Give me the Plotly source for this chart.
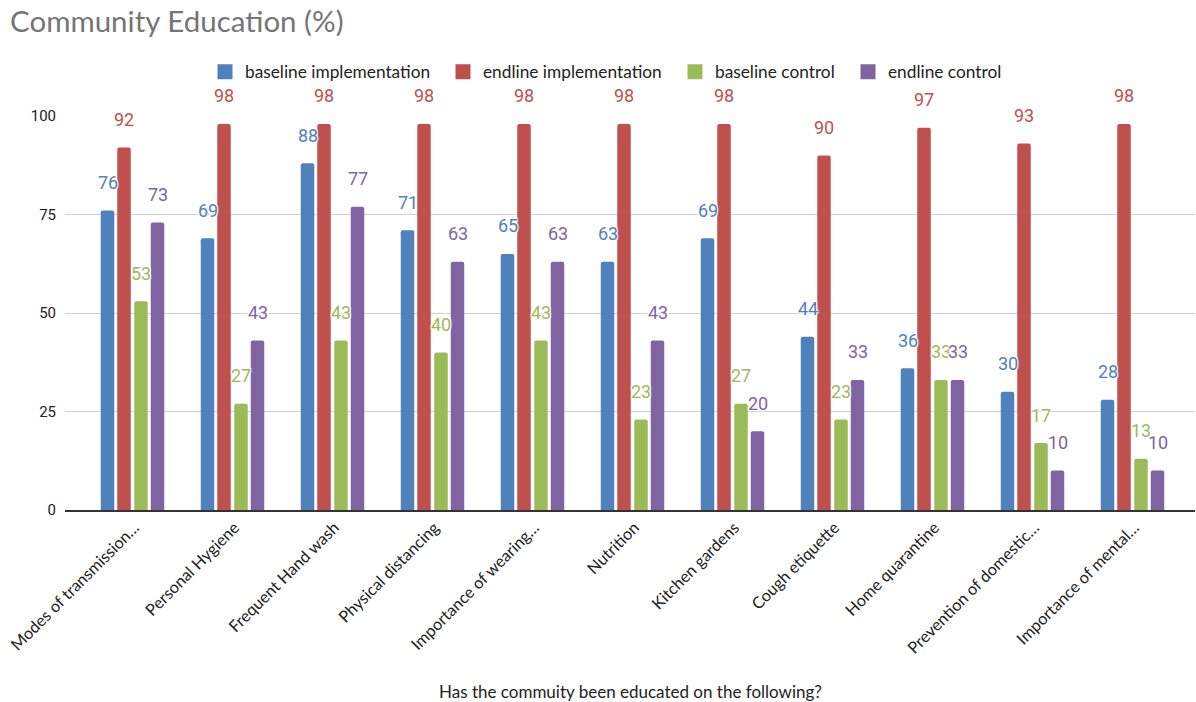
import plotly.graph_objects as go

# Topics the community was asked about
categories = [
    "Modes of transmission…",
    "Personal Hygiene",
    "Frequent Hand wash",
    "Physical distancing",
    "Importance of wearing…",
    "Nutrition",
    "Kitchen gardens",
    "Cough etiquette",
    "Home quarantine",
    "Prevention of domestic…",
    "Importance of mental…",
]

# Share of respondents (%) per survey round and arm
baseline_implementation = [76, 69, 88, 71, 65, 63, 69, 44, 36, 30, 28]
endline_implementation = [92, 98, 98, 98, 98, 98, 98, 90, 97, 93, 98]
baseline_control = [53, 27, 43, 40, 43, 23, 27, 23, 33, 17, 13]
endline_control = [73, 43, 77, 63, 63, 43, 20, 33, 33, 10, 10]

series_names = ["baseline implementation", "endline implementation",
                "baseline control", "endline control"]
series_values = [baseline_implementation, endline_implementation,
                 baseline_control, endline_control]
series_colors = ["#4F81BD", "#C0504D", "#9BBB59", "#8064A2"]

# Layout of the four bars inside each category slot (axis units)
bar_width = 0.135
offsets = [-0.25, -0.085, 0.085, 0.25]

# Left edge (px) of each legend entry across the top of the chart
legend_left_px = [205, 443, 675, 848]
legend_ids = ["legend", "legend2", "legend3", "legend4"]

halo = ("1px 1px 1px white, -1px -1px 1px white, "
        "1px -1px 1px white, -1px 1px 1px white")

fig = go.Figure()
annotations = []
idx = list(range(len(categories)))

for name, vals, color, off in zip(series_names, series_values, series_colors, offsets):
    xs = [i + off for i in idx]
    fig.add_trace(go.Bar(
        x=xs, y=vals, name=name, width=bar_width, showlegend=False,
        marker=dict(color=color, line=dict(width=0), cornerradius=2),
        hovertemplate="%{y}<extra>" + name + "</extra>",
    ))
    for x, v in zip(xs, vals):
        annotations.append(dict(
            x=x, y=v, xref="x", yref="y", text=str(v), showarrow=False,
            yanchor="middle", yshift=28,
            font=dict(family="Roboto", size=18, color=color, shadow=halo),
        ))

# Square legend keys, one legend box per series
for name, color, lid in zip(series_names, series_colors, legend_ids):
    fig.add_trace(go.Scatter(
        x=[None], y=[None], mode="markers", name=name, legend=lid,
        marker=dict(symbol="square", size=15, color=color),
        hoverinfo="skip",
    ))

# Horizontal axis caption
annotations.append(dict(
    x=0.5, y=-(691 - 510) / 394, xref="paper", yref="paper",
    text="Has the commuity been educated on the following?",
    showarrow=False, xanchor="center", yanchor="middle",
    font=dict(family="Lato", size=17, color="#222222"),
))

legend_style = dict(
    orientation="h", xref="container", xanchor="left",
    yref="container", y=1 - 72 / 702, yanchor="middle",
    font=dict(family="Lato", size=17.3, color="#222222"),
    bgcolor="rgba(0,0,0,0)",
)
legends = {lid: dict(legend_style, x=px / 1196)
           for lid, px in zip(legend_ids, legend_left_px)}

fig.update_layout(
    width=1196, height=702,
    margin=dict(l=65, r=1, t=116, b=192),
    barmode="overlay",
    plot_bgcolor="white", paper_bgcolor="white",
    title=dict(
        text="Community Education (%)",
        x=10 / 1196, xref="container", xanchor="left",
        y=1 - 22 / 702, yref="container", yanchor="middle",
        font=dict(family="Lato", size=29.5, color="#757575"),
    ),
    annotations=annotations,
    xaxis=dict(
        range=[-0.675, 10.625], automargin=False,
        tickmode="array", tickvals=idx, ticktext=categories,
        tickangle=-45, ticklabeloverflow="allow", ticklabelshift=2,
        tickfont=dict(family="Lato", size=16.3, color="#222222"),
        showgrid=False, zeroline=False,
        showline=True, linecolor="#333333", linewidth=1.5,
        ticks="",
    ),
    yaxis=dict(
        range=[0, 100.01], automargin=False,
        tickvals=[0, 25, 50, 75, 100],
        tickfont=dict(family="Roboto", size=15, color="#222222"),
        showgrid=True, gridcolor="#D0D0D0", gridwidth=1,
        zeroline=False, showline=False,
        ticklabelstandoff=8,
    ),
    **legends,
)

fig.write_html("out.html")
